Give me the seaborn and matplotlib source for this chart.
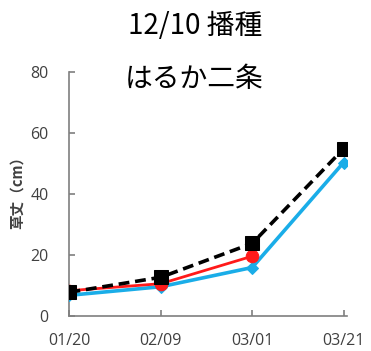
import matplotlib
matplotlib.use("Agg")
import matplotlib.pyplot as plt
import seaborn as sns

sns.set_theme(style="white")
plt.rcParams['font.family'] = ['Open Sans', 'Noto Sans CJK JP', 'DejaVu Sans']

# Survey dates (days after 01/20) and their labels
days = [0, 20, 40, 60]
date_labels = ["01/20", "02/09", "03/01", "03/21"]

# Plant height (cm)
height_black = [7.8, 12.7, 23.8, 54.8]
height_red = [8.3, 10.6, 19.6]
height_blue = [6.8, 9.6, 15.9, 50.3]

fig = plt.figure(figsize=(3.71, 3.51), dpi=100)
ax = fig.add_axes([0.1873, 0.0997, 0.7472, 0.6952])

blue = "#1AADE8"
sns.lineplot(x=days, y=height_blue, ax=ax, color=blue, lw=2.6,
             marker="D", markersize=6, markeredgecolor=blue, zorder=3)
sns.lineplot(x=days[:len(height_red)], y=height_red, ax=ax, color="#FF1A1A", lw=2.0,
             marker="o", markersize=9, markeredgecolor="#FF1A1A", zorder=4)
sns.lineplot(x=days, y=height_black, ax=ax, color="black", lw=2.6,
             linestyle=(0, (3.0, 1.6)), marker="s", markersize=10,
             markeredgecolor="black", zorder=5)

ax.set_xlim(0, 60.7)
ax.set_ylim(0, 80)
ax.set_xticks(days)
ax.set_xticklabels(date_labels)
ax.set_yticks([0, 20, 40, 60, 80])

for side in ["top", "right"]:
    ax.spines[side].set_visible(False)
for side in ["left", "bottom"]:
    ax.spines[side].set_color("#7f7f7f")
    ax.spines[side].set_linewidth(1.2)

ax.tick_params(axis="both", direction="in", length=4, width=1.2, color="#7f7f7f",
               labelsize=11.5, labelcolor="#404040")
ax.tick_params(axis="y", pad=15, left=True)
ax.tick_params(axis="x", pad=12, bottom=True)

jp = ['Noto Sans CJK JP', 'DejaVu Sans']
ax.set_ylabel("草丈（cm）", fontsize=10.5, color="#404040", fontweight="bold", family=jp)
ax.yaxis.set_label_coords(-0.16, 0.52)

fig.text(0.527, 0.925, "12/10 播種", ha="center", va="center", fontsize=20,
         color="black", family=jp)
fig.text(0.522, 0.775, "はるか二条", ha="center", va="center", fontsize=20,
         color="black", family=jp)

fig.savefig("out.png", dpi=100)
